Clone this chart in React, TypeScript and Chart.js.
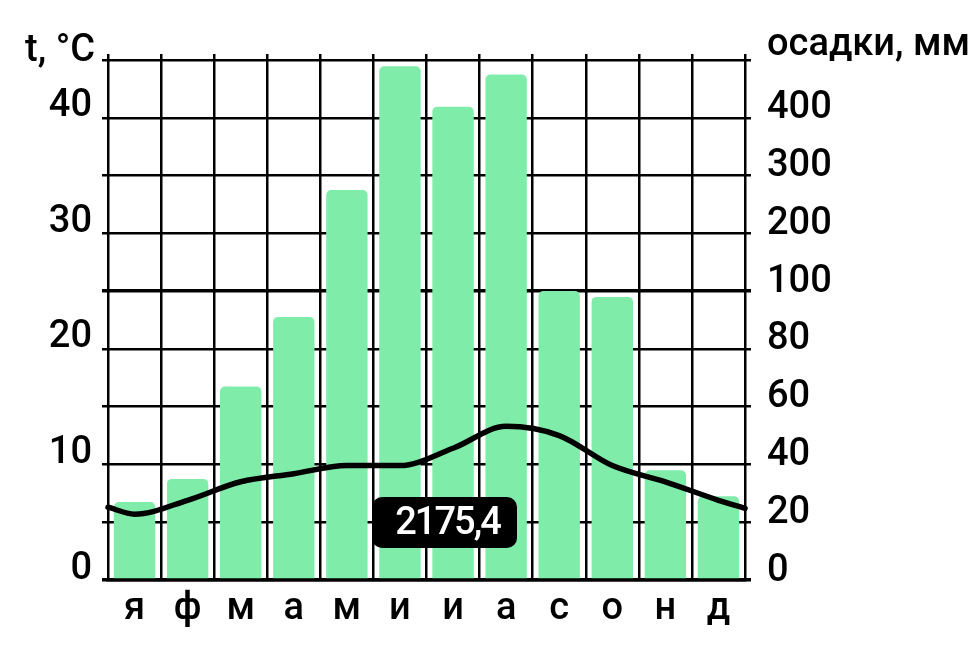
import React, { useEffect, useRef } from 'react';
import { Chart, registerables } from 'chart.js';

Chart.register(...registerables);

// ---- data ----
const months = ['я', 'ф', 'м', 'а', 'м', 'и', 'и', 'а', 'с', 'о', 'н', 'д'];
const precipitation = [27, 35, 67, 91, 275, 489, 419, 475, 100, 98, 38, 29]; // mm
const temperature = [5.7, 6.9, 8.5, 9.2, 9.9, 9.9, 11.4, 13.3, 12.5, 9.9, 8.5, 6.9]; // °C
const tempStart = 6.3; // value at the left edge of the plot
const tempEnd = 6.2; // value at the right edge of the plot
const precipTickLabels = ['0', '20', '40', '60', '80', '100', '200', '300', '400', ''];
const annualTotal = '2175,4';
const tempTitle = 't, °C';
const precipTitle = 'осадки, мм';

// precipitation axis: 20 mm per grid step up to 100, then 100 mm per step
const precipToUnits = (p: number) => (p <= 100 ? p / 20 : 5 + (p - 100) / 100);

const FONT = 'Roboto, "Noto Sans", sans-serif';
const WEIGHT = 500;
const BLACK = '#000000';
const GREEN = '#80ECAA';

const overlayPlugin = {
  id: 'overlay',
  afterDraw(chart: any) {
    const { ctx, chartArea } = chart;
    ctx.save();
    ctx.fillStyle = BLACK;
    ctx.font = `${WEIGHT} 38px ${FONT}`;
    ctx.textBaseline = 'alphabetic';
    ctx.textAlign = 'right';
    ctx.fillText(tempTitle, chartArea.left - 13, chartArea.top + 1);
    ctx.textAlign = 'left';
    ctx.fillText(precipTitle, chartArea.right + 22, chartArea.top - 5);

    // annual total box
    const w = 145, h = 51, r = 10;
    const bx = chartArea.left + 264;
    const by = chartArea.top + 437;
    ctx.beginPath();
    ctx.roundRect(bx, by, w, h, r);
    ctx.fillStyle = BLACK;
    ctx.fill();
    ctx.fillStyle = '#ffffff';
    ctx.textAlign = 'center';
    ctx.textBaseline = 'middle';
    ctx.font = `${WEIGHT} 38px ${FONT}`;
    (ctx as any).letterSpacing = '-2px';
    ctx.fillText(annualTotal, bx + w / 2 + 3, by + h / 2 + 2);
    ctx.restore();
  },
};

export default function App() {
  const canvasRef = useRef<HTMLCanvasElement | null>(null);

  useEffect(() => {
    document.body.style.margin = '0';
    const canvas = canvasRef.current;
    if (!canvas) return;

    const lineData = [
      { x: 0, y: tempStart },
      ...temperature.map((t, i) => ({ x: i + 0.5, y: t })),
      { x: 12, y: tempEnd },
    ];

    const chart = new Chart(canvas, {
      type: 'bar',
      data: {
        labels: months,
        datasets: [
          {
            type: 'line',
            data: lineData as any,
            xAxisID: 'xl',
            yAxisID: 'y',
            borderColor: BLACK,
            borderWidth: 5.5,
            borderCapStyle: 'round',
            borderJoinStyle: 'round',
            pointRadius: 0,
            cubicInterpolationMode: 'monotone',
            fill: false,
            clip: false as any,
            order: 0,
          } as any,
          {
            type: 'bar',
            data: precipitation.map(precipToUnits),
            xAxisID: 'x',
            yAxisID: 'y2',
            backgroundColor: GREEN,
            borderWidth: 0,
            borderRadius: { topLeft: 5, topRight: 5, bottomLeft: 0, bottomRight: 0 },
            borderSkipped: 'start',
            grouped: false,
            barPercentage: 0.78,
            categoryPercentage: 1,
            order: 1,
          } as any,
        ],
      },
      options: {
        responsive: false,
        animation: false,
        devicePixelRatio: 1,
        layout: { padding: { top: 54, left: 0, right: 0, bottom: 0 } },
        plugins: {
          legend: { display: false },
          tooltip: { enabled: false },
          title: { display: false },
        },
        scales: {
          x: {
            type: 'category',
            position: 'bottom',
            offset: true,
            grid: {
              offset: true,
              color: BLACK,
              lineWidth: 2.5,
              drawTicks: false,
            },
            border: { display: true, color: BLACK, width: 3.5 },
            ticks: {
              color: BLACK,
              font: { family: FONT, size: 38, weight: WEIGHT },
              padding: 7,
              maxRotation: 0,
              autoSkip: false,
            },
            afterFit: (s: any) => {
              s.height = 79;
            },
          },
          xTop: {
            type: 'category',
            position: 'top',
            labels: months,
            offset: true,
            grid: {
              offset: true,
              color: BLACK,
              lineWidth: 2.5,
              drawOnChartArea: false,
              drawTicks: true,
              tickLength: 6,
            },
            border: { display: false },
            ticks: { display: false, autoSkip: false },
            afterFit: (s: any) => {
              s.height = 6;
            },
          },
          xl: {
            type: 'linear',
            display: false,
            offset: false,
            grid: { offset: false },
            min: 0,
            max: 12,
          },
          y: {
            type: 'linear',
            position: 'left',
            min: 0,
            max: 45,
            grid: {
              color: BLACK,
              lineWidth: (c: any) => (c.tick && (c.tick.value === 0 || c.tick.value === 25) ? 3.5 : 2.5),
              drawTicks: true,
              tickLength: 6,
            },
            border: { display: false },
            ticks: {
              stepSize: 5,
              color: BLACK,
              font: { family: FONT, size: 38, weight: WEIGHT },
              padding: 10,
              labelOffset: -11,
              callback: (v: any) => (Number(v) % 10 === 0 ? String(v) : ''),
            },
            afterFit: (s: any) => {
              s.width = 108;
            },
          },
          y2: {
            type: 'linear',
            position: 'right',
            min: 0,
            max: 9,
            grid: {
              color: BLACK,
              lineWidth: (c: any) => (c.tick && (c.tick.value === 0 || c.tick.value === 5) ? 3.5 : 2.5),
              drawOnChartArea: false,
              drawTicks: true,
              tickLength: 6,
            },
            border: { display: false },
            ticks: {
              stepSize: 1,
              color: BLACK,
              font: { family: FONT, size: 38, weight: WEIGHT },
              padding: 16,
              labelOffset: -9,
              callback: (_v: any, i: number) => precipTickLabels[i] ?? '',
            },
            afterFit: (s: any) => {
              s.width = 235;
            },
          },
        },
      } as any,
      plugins: [overlayPlugin],
    });

    return () => {
      chart.destroy();
    };
  }, []);

  return (
    <div style={{ position: 'absolute', left: 0, top: 0, width: 980, height: 659, background: '#ffffff' }}>
      <canvas ref={canvasRef} width={980} height={659} style={{ display: 'block' }} />
    </div>
  );
}
